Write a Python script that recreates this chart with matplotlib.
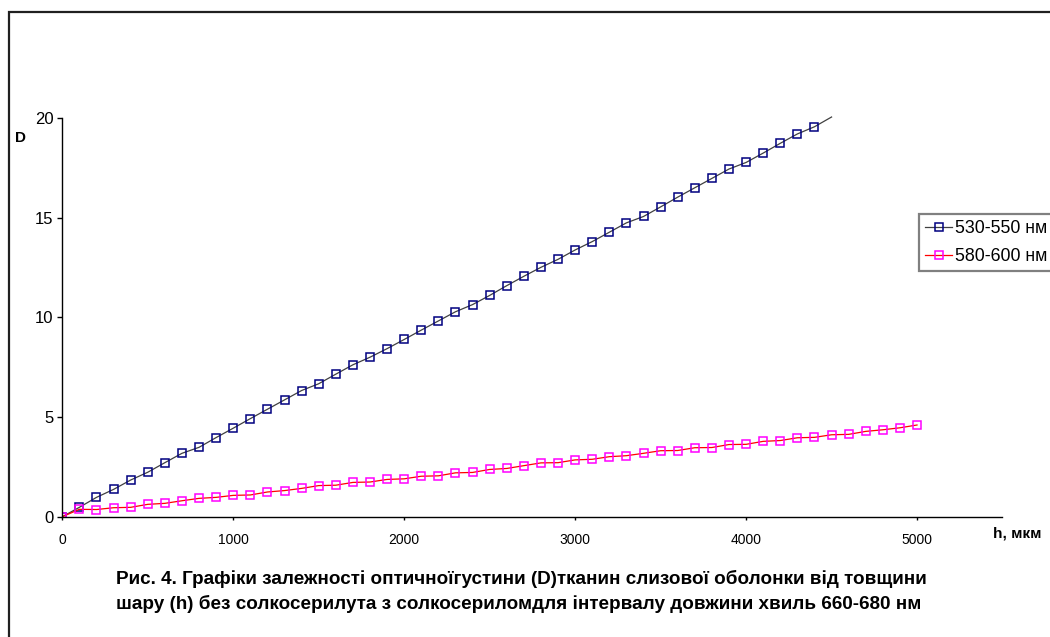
import numpy as np
import matplotlib
matplotlib.use("Agg")
import matplotlib.pyplot as plt
from matplotlib.patches import Rectangle

##############################################################################
# Data
# thickness h, um
h_530 = [0, 100, 200, 300, 400, 500, 600, 700, 800, 900,
         1000, 1100, 1200, 1300, 1400, 1500, 1600, 1700, 1800, 1900,
         2000, 2100, 2200, 2300, 2400, 2500, 2600, 2700, 2800, 2900,
         3000, 3100, 3200, 3300, 3400, 3500, 3600, 3700, 3800, 3900,
         4000, 4100, 4200, 4300, 4400, 4500]
# optical density D, 530-550 nm
d_530 = [0, 0.47, 0.97, 1.37, 1.84, 2.23, 2.71, 3.18, 3.48, 3.97,
         4.44, 4.92, 5.39, 5.86, 6.33, 6.67, 7.15, 7.62, 8.00, 8.43,
         8.89, 9.36, 9.82, 10.28, 10.64, 11.10, 11.59, 12.06, 12.51, 12.91,
         13.38, 13.80, 14.27, 14.74, 15.06, 15.54, 16.03, 16.50, 16.97, 17.44,
         17.77, 18.24, 18.73, 19.20, 19.56, 20.05]

h_580 = [0, 100, 200, 300, 400, 500, 600, 700, 800, 900,
         1000, 1100, 1200, 1300, 1400, 1500, 1600, 1700, 1800, 1900,
         2000, 2100, 2200, 2300, 2400, 2500, 2600, 2700, 2800, 2900,
         3000, 3100, 3200, 3300, 3400, 3500, 3600, 3700, 3800, 3900,
         4000, 4100, 4200, 4300, 4400, 4500, 4600, 4700, 4800, 4900, 5000]
# optical density D, 580-600 nm
d_580 = [0, 0.37, 0.36, 0.45, 0.47, 0.62, 0.67, 0.80, 0.92, 0.97,
         1.07, 1.09, 1.24, 1.31, 1.42, 1.56, 1.58, 1.72, 1.74, 1.87,
         1.90, 2.03, 2.05, 2.20, 2.22, 2.37, 2.42, 2.56, 2.70, 2.71,
         2.85, 2.88, 3.01, 3.06, 3.18, 3.31, 3.32, 3.46, 3.47, 3.62,
         3.63, 3.78, 3.82, 3.96, 3.98, 4.11, 4.13, 4.28, 4.36, 4.46, 4.60]

etiquetas = ['530-550 нм', '580-600 нм']
x_ticks = [0, 1000, 2000, 3000, 4000, 5000]
y_ticks = [0, 5, 10, 15, 20]

titulo_1 = 'Рис. 4. Графіки залежності оптичноїгустини (D)тканин слизової оболонки від товщини'
titulo_2 = 'шару (h) без солкосерилута з солкосериломдля інтервалу довжини хвиль 660-680 нм'

##############################################################################
# Figure
plt.rcParams['font.family'] = ['Liberation Sans', 'DejaVu Sans']

W, H = 1050, 637
fig = plt.figure(figsize=(W / 100, H / 100), dpi=100)

# axes placed in pixels: x 0 -> 62, 5500 -> 1002; y 0 -> 516.7, 20 -> 118
px_y = (516.7 - 118) / 20
y_top = 20.1
ax = fig.add_axes([62.3 / W, (H - 516.7) / H, (1002.5 - 62.3) / W, y_top * px_y / H])

# outer chart border (right and bottom edges lie outside the picture)
fig.patches.append(Rectangle((9 / W, -0.2), 1.5, (H - 12) / H + 0.2,
                             transform=fig.transFigure, fill=False,
                             edgecolor='#202020', linewidth=1.6))

ax.plot(h_530, d_530, color='#404040', linewidth=0.9,
        marker='s', markersize=6, markerfacecolor='none',
        markeredgecolor='#000080', markeredgewidth=1.1,
        markevery=list(range(len(h_530) - 1)), label=etiquetas[0])
ax.plot(h_580, d_580, color='#ff0000', linewidth=0.9,
        marker='s', markersize=6, markerfacecolor='none',
        markeredgecolor='#ff00ff', markeredgewidth=1.1, label=etiquetas[1])

ax.set_xlim(0, 5500)
ax.set_ylim(0, y_top)
ax.set_xticks(x_ticks)
ax.set_yticks(y_ticks)
ax.spines['top'].set_visible(False)
ax.spines['right'].set_visible(False)
ax.spines['left'].set_bounds(0, 20)
for s in ['left', 'bottom']:
    ax.spines[s].set_linewidth(1.0)
ax.tick_params(axis='x', direction='out', length=2.5, width=1, pad=9, labelsize=10)
ax.tick_params(axis='y', direction='out', length=3.5, width=1, pad=3, labelsize=12)

# axis names
fig.text(20 / W, 1 - 138 / H, 'D', fontsize=11, fontweight='bold', ha='center', va='center')
fig.text(993 / W, 1 - 534 / H, 'h, мкм', fontsize=11, fontweight='bold', ha='left', va='center')

# legend, pushed against the right edge of the picture
leg = fig.legend(loc='upper left', bbox_to_anchor=(919 / W, 1 - 214 / H),
                 bbox_transform=fig.transFigure, borderaxespad=0,
                 fontsize=12.8, handlelength=1.5, handletextpad=0.2,
                 borderpad=0.35, labelspacing=0.6, fancybox=False, framealpha=1)
leg.get_frame().set_edgecolor('#808080')
leg.get_frame().set_linewidth(1.6)

# caption
fig.text(521 / W, 1 - 579 / H, titulo_1, fontsize=13.6, fontweight='bold', ha='center', va='center')
fig.text(519 / W, 1 - 604 / H, titulo_2, fontsize=13.6, fontweight='bold', ha='center', va='center')

plt.savefig('out.png', dpi=100)
